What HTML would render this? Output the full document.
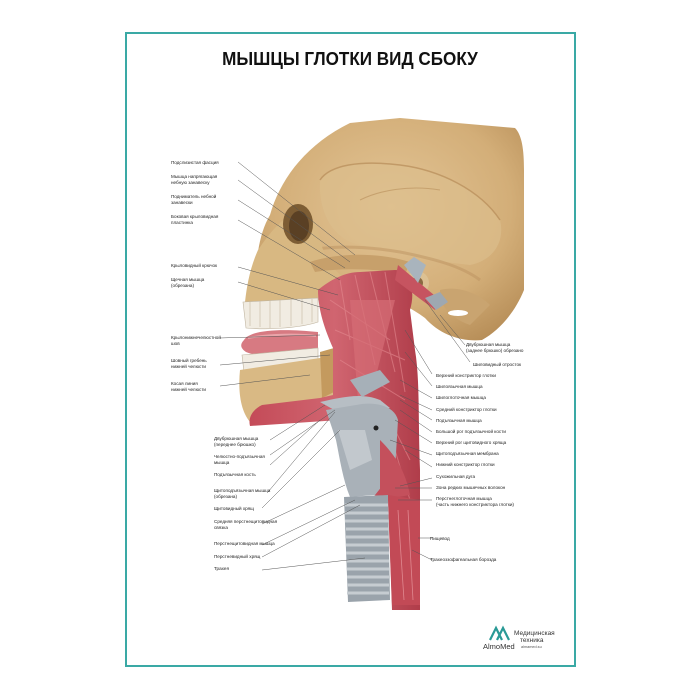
<!DOCTYPE html>
<html><head><meta charset="utf-8"><style>
html,body{margin:0;padding:0;background:#fff}
body{width:700px;height:700px;position:relative;overflow:hidden;font-family:"Liberation Sans",sans-serif}
.frame{position:absolute;left:125px;top:32px;width:447px;height:631px;border:2px solid #3aa9a5}
.t{position:absolute;left:0;width:700px;top:49px;text-align:center;font-size:18px;font-weight:bold;color:#111;transform:scaleX(0.95)}
</style></head><body>
<div class="frame"></div>
<div class="t">МЫШЦЫ ГЛОТКИ ВИД СБОКУ</div>
<svg width="700" height="700" style="position:absolute;left:0;top:0" font-family="Liberation Sans, sans-serif">
<defs>
<radialGradient id="bone" cx="0.5" cy="0.4" r="0.75"><stop offset="0" stop-color="#e3c596"/><stop offset="0.6" stop-color="#d3ae78"/><stop offset="1" stop-color="#b08650"/></radialGradient>
<linearGradient id="mus" x1="0" x2="1"><stop offset="0" stop-color="#c44b58"/><stop offset="0.5" stop-color="#d06570"/><stop offset="1" stop-color="#b03d4a"/></linearGradient>
</defs>
<!-- cranium -->
<path d="M270,215 C280,180 305,145 350,123 L400,118 L515,128 C522,135 524,150 524,170 L524,290 C515,312 500,330 482,340 C462,342 440,335 425,318 C400,300 372,290 345,285 C330,282 318,275 310,270 C300,270 292,262 288,250 C275,245 262,255 258,252 C260,238 264,225 270,215Z" fill="url(#bone)"/>
<path d="M320,180 C330,165 360,160 400,165 C440,170 480,190 500,220 C505,240 495,260 470,265 C440,262 400,255 360,245 C335,240 318,215 320,180Z" fill="#dcbd8c" opacity="0.7"/>
<path d="M320,180 C330,165 360,160 400,165 C440,170 480,190 500,220" stroke="#b78c58" stroke-width="1.5" fill="none" opacity="0.7"/>
<path d="M360,200 C380,190 410,185 440,190" stroke="#b88d5a" stroke-width="1" fill="none" opacity="0.6"/>
<path d="M290,255 C320,245 360,245 400,252 C430,258 460,265 480,280" stroke="#bb9260" stroke-width="3" fill="none" opacity="0.5"/>
<!-- face -->
<path d="M258,250 C265,240 275,225 290,215 C305,208 318,220 320,240 C325,260 335,270 345,280 L330,300 L245,302 C247,285 250,268 258,250Z" fill="#d8b882"/>
<ellipse cx="298" cy="224" rx="15" ry="20" fill="#7d5d34"/>
<ellipse cx="299" cy="226" rx="10" ry="15" fill="#5a4024"/>
<path d="M310,262 C330,255 370,250 410,262 L405,275 C380,268 340,268 315,272Z" fill="#c7a06b"/>
<path d="M440,290 C460,285 480,295 490,305 L470,325 C455,320 445,310 440,300Z" fill="#c9a470"/>
<ellipse cx="458" cy="313" rx="10" ry="3" fill="#fff"/>
<circle cx="417" cy="283" r="12" fill="#dcc193"/><circle cx="417" cy="283" r="6" fill="#8a6a42"/>
<!-- teeth upper -->
<path d="M243,302 L318,298 L318,322 C300,328 270,330 246,328Z" fill="#f1ece2" stroke="#bfb4a0" stroke-width="0.6"/>
<path d="M250,302 v24 M260,301 v26 M270,301 v27 M280,300 v27 M291,300 v26 M302,299 v25 M312,299 v23" stroke="#cfc4b1" stroke-width="0.8"/>
<!-- tongue -->
<path d="M244,340 C250,330 280,328 318,332 L318,352 C290,358 260,358 246,352 C240,348 240,344 244,340Z" fill="#d77a82"/>
<path d="M248,338 C270,334 300,334 316,336" stroke="#e9a5aa" stroke-width="2" fill="none"/>
<!-- lower teeth -->
<path d="M242,355 L318,348 L318,362 L244,372Z" fill="#f1ece2" stroke="#bfb4a0" stroke-width="0.6"/>
<!-- jaw -->
<path d="M240,370 L320,358 L333,358 L333,395 C320,410 300,418 270,420 L250,422 C240,410 238,390 240,370Z" fill="#d9b984"/>
<path d="M320,352 L334,348 L334,392 L322,398Z" fill="#c49a5e"/>
<!-- muscle mass -->
<path d="M318,290 C330,280 345,272 360,272 L395,270 C410,270 416,290 410,310 L415,350 C420,380 418,420 420,470 L420,610 L392,610 L388,500 L360,490 C350,460 345,440 340,420 L250,426 C248,418 252,410 262,405 L320,398 L333,395 L333,348 C325,330 318,310 318,290Z" fill="url(#mus)"/>
<path d="M340,280 l10,60 M355,275 l20,90 M370,272 l25,100 M385,272 l20,120 M330,300 l60,40 M335,330 l70,30 M340,360 l65,40 M380,400 l30,60 M395,450 l18,60 M400,520 l10,80" stroke="#e48a90" stroke-width="1" opacity="0.6"/>
<path d="M398,265 L440,300 L435,310 L395,280Z" fill="#c65460"/>
<path d="M404,265 l10,-8 l12,8 l-8,18Z" fill="#a9b4bd"/>
<path d="M425,298 l15,-6 l8,10 l-12,8Z" fill="#9ea8b1"/>
<path d="M350,300 L395,300 L375,380 L358,400Z" fill="#d56d76" opacity="0.7"/>
<!-- hyoid region -->
<path d="M320,402 C340,398 360,392 380,400 L390,408 L345,416Z" fill="#b7bec4"/>
<path d="M350,380 l30,-10 l10,12 l-28,15Z" fill="#a6b0b8"/>
<!-- thyroid -->
<path d="M326,410 L362,404 C380,402 395,408 398,420 L395,470 L375,495 L350,497 C343,480 340,460 336,440 Z" fill="#a9b1b8"/>
<path d="M338,430 L365,430 L372,460 L350,470Z" fill="#c2c8cd"/>
<circle cx="376" cy="428" r="2.5" fill="#222"/>
<path d="M380,440 C395,455 405,470 410,495 L380,500Z" fill="#c4505c"/>
<!-- trachea -->
<path d="M344,497 L388,495 L390,600 L348,602Z" fill="#9aa3ab"/>
<path d="M345,505 h43 M345,513 h44 M345,521 h44 M346,529 h43 M346,537 h43 M346,545 h43 M346,553 h43 M347,561 h42 M347,569 h42 M347,577 h42 M347,585 h42 M347,593 h42" stroke="#c6ccd1" stroke-width="3"/>
<path d="M388,495 L420,500 L420,605 L392,605Z" fill="#c24a56"/>
<path d="M398,510 l6,90 M408,510 l5,90" stroke="#e08890" stroke-width="0.8"/>
<g stroke="#555" stroke-width="0.5" fill="none">
<path d="M238,162 L355,255 M238,180 L350,262 M238,200 L345,268 M238,220 L340,280 M238,267 L338,295 M238,282 L330,310 M220,338 L320,335 M220,365 L330,355 M220,386 L310,375"/>
<path d="M270,465 L320,420 M270,455 L335,410 M270,440 L325,405 M268,492 L335,412 M262,508 L340,430 M262,524 L345,485 M262,545 L355,500 M262,557 L360,505 M262,570 L365,558"/>
<path d="M465,345 L440,315 M470,362 L425,300 M432,374 L405,330 M432,386 L405,352 M432,398 L400,380 M432,410 L400,395 M432,420 L400,400 M432,432 L400,410 M432,443 L395,420 M432,455 L390,440 M432,467 L405,450 M432,478 L400,486 M432,488 L395,488 M432,500 L398,500 M432,538 L418,538 M432,560 L412,550"/>
</g>
<g font-size="4.6" fill="#222">
<text x="171" y="164">Подслизистая фасция</text>
<text x="171" y="178">Мышца напрягающая</text><text x="171" y="184">небную занавеску</text>
<text x="171" y="198">Подниматель небной</text><text x="171" y="204">занавески</text>
<text x="171" y="218">Боковая крыловидная</text><text x="171" y="224">пластинка</text>
<text x="171" y="267">Крыловидный крючок</text>
<text x="171" y="281">Щечная мышца</text><text x="171" y="287">(обрезана)</text>
<text x="171" y="339">Крылонижнечелюстной</text><text x="171" y="345">шов</text>
<text x="171" y="362">Шовный гребень</text><text x="171" y="368">нижней челюсти</text>
<text x="171" y="385">Косая линия</text><text x="171" y="391">нижней челюсти</text>
<text x="214" y="440">Двубрюшная мышца</text><text x="214" y="446">(переднее брюшко)</text>
<text x="214" y="458">Челюстно-подъязычная</text><text x="214" y="464">мышца</text>
<text x="214" y="476">Подъязычная кость</text>
<text x="214" y="492">Щитоподъязычная мышца</text><text x="214" y="498">(обрезана)</text>
<text x="214" y="510">Щитовидный хрящ</text>
<text x="214" y="523">Средняя перстнещитовидная</text><text x="214" y="529">связка</text>
<text x="214" y="545">Перстнещитовидная мышца</text>
<text x="214" y="558">Перстневидный хрящ</text>
<text x="214" y="570">Трахея</text>
<text x="466" y="346">Двубрюшная мышца</text><text x="466" y="352">(заднее брюшко) обрезано</text>
<text x="473" y="366">Шиловидный отросток</text>
<text x="436" y="377">Верхний констриктор глотки</text>
<text x="436" y="388">Шилоязычная мышца</text>
<text x="436" y="399">Шилоглоточная мышца</text>
<text x="436" y="411">Средний констриктор глотки</text>
<text x="436" y="422">Подъязычная мышца</text>
<text x="436" y="433">Большой рог подъязычной кости</text>
<text x="436" y="444">Верхний рог щитовидного хряща</text>
<text x="436" y="455">Щитоподъязычная мембрана</text>
<text x="436" y="466">Нижний констриктор глотки</text>
<text x="436" y="478">Сухожильная дуга</text>
<text x="436" y="489">Зона редких мышечных волокон</text>
<text x="436" y="500">Перстнеглоточная мышца</text><text x="436" y="506">(часть нижнего констриктора глотки)</text>
<text x="430" y="540">Пищевод</text>
<text x="430" y="561">Трахеоэзофагеальная борозда</text>
</g>
<path d="M490,640 L496,628 L502,640 M497,640 L503,628 L509,640" stroke="#2a9a96" stroke-width="2.2" fill="none"/>
<text x="483" y="649" font-size="7.5" fill="#333">AlmoMed</text>
<text x="514" y="635" font-size="6.5" fill="#333">Медицинская</text>
<text x="520" y="642" font-size="6.5" fill="#333">техника</text>
<text x="521" y="648" font-size="3.8" fill="#555">almamed.su</text>
</svg>
</body></html>
